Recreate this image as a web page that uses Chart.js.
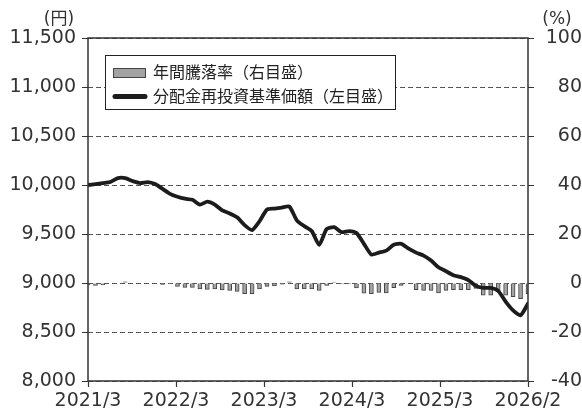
<!DOCTYPE html>
<html>
<head>
<meta charset="utf-8">
<script src="https://cdn.jsdelivr.net/npm/chart.js@4"></script>
<style>
  html, body { margin:0; padding:0; background:#fff; }
  #graphCanvas { display:block; }
</style>
</head>
<body>
<canvas id="graphCanvas" width="582" height="413"></canvas>
<script>
// months 2021/3 .. 2026/2
var months = [];
for (var yy = 2021, mm = 3; months.length < 60; mm++) {
  if (mm > 12) { mm = 1; yy++; }
  months.push(yy + '/' + mm);
}

var xTickLabels = ['2021/3', '2022/3', '2023/3', '2024/3', '2025/3', '2026/2'];

// 分配金再投資基準価額 (円, left axis)
var navValues = [
  10000, 10010, 10020, 10030, 10070, 10070, 10040, 10020, 10030, 10010,
  9960, 9910, 9880, 9860, 9850, 9800, 9830, 9800, 9740, 9710,
  9670, 9590, 9540, 9630, 9750, 9760, 9770, 9780, 9640, 9580,
  9530, 9390, 9550, 9570, 9520, 9530, 9510, 9400, 9290, 9310,
  9330, 9390, 9400, 9350, 9310, 9280, 9230, 9160, 9120, 9080,
  9060, 9030, 8970, 8950, 8950, 8920, 8810, 8720, 8670, 8790
];

// 年間騰落率 (%, right axis)
var annualReturn = [
  -0.8, -1.0, -0.8, 0, 0, 0.5, 0, 0, 0, 0,
  -0.6, -0.1, -1.4, -1.8, -1.8, -2.4, -2.6, -2.4, -2.8, -3.0,
  -3.4, -4.4, -4.4, -2.4, -1.4, -1.2, -0.5, 0.5, -2.4, -2.4,
  -2.4, -3.0, -1.0, 0.4, -0.4, -0.4, -2.0, -4.2, -4.4, -3.8,
  -4.0, -1.9, -1.0, 0, -2.7, -3.0, -3.0, -4.0, -3.0, -2.7,
  -2.7, -2.7, -2.2, -5.0, -5.0, -3.6, -5.0, -5.6, -6.4, -4.4
];

var seriesNames = ['年間騰落率（右目盛）', '分配金再投資基準価額（左目盛）'];
var unitLeft = '(円)';
var unitRight = '(%)';

var tickFont = { family: '"DejaVu Sans", "Noto Sans CJK JP", sans-serif', size: 19 };

function toPoints(arr) {
  var pts = [];
  for (var ii = 0; ii < arr.length; ii++) pts.push({ x: ii, y: arr[ii] });
  return pts;
}

var framePlugin = {
  id: 'frame',
  afterDraw: function(chart) {
    var a = chart.chartArea, ctx = chart.ctx;
    ctx.save();
    ctx.strokeStyle = '#333';
    ctx.lineWidth = 1.5;
    ctx.strokeRect(a.left, a.top, a.right - a.left, a.bottom - a.top);

    // legend box
    var bx = 105, by = 55, bw = 290, bh = 54;
    ctx.fillStyle = '#fff';
    ctx.fillRect(bx, by, bw, bh);
    ctx.lineWidth = 1;
    ctx.strokeStyle = '#222';
    ctx.strokeRect(bx + 0.5, by + 0.5, bw, bh);
    var ds = chart.data.datasets;
    ctx.font = '16px "Noto Sans CJK JP", sans-serif';
    ctx.textBaseline = 'middle';
    ctx.textAlign = 'left';
    // bar item
    ctx.fillStyle = ds[0].backgroundColor;
    ctx.fillRect(113, 68, 32, 9);
    ctx.strokeStyle = ds[0].borderColor;
    ctx.strokeRect(113.5, 68.5, 32, 9);
    ctx.fillStyle = '#222';
    ctx.fillText(ds[0].label, 153, 72);
    // line item
    ctx.strokeStyle = ds[1].borderColor;
    ctx.lineWidth = 5;
    ctx.lineCap = 'round';
    ctx.beginPath();
    ctx.moveTo(115, 96.5);
    ctx.lineTo(145, 96.5);
    ctx.stroke();
    ctx.fillText(ds[1].label, 153, 96);

    // units
    ctx.font = '17px "DejaVu Sans", "Noto Sans CJK JP", sans-serif';
    ctx.textAlign = 'center';
    ctx.fillStyle = '#333';
    ctx.fillText(unitLeft, 59, 20);
    ctx.fillText(unitRight, 557, 20);
    ctx.restore();
  }
};

var graphTarget = document.getElementById('graphCanvas');
var comboChart = new Chart(graphTarget, {
  data: {
    datasets: [
      {
        type: 'bar',
        label: seriesNames[0],
        data: toPoints(annualReturn),
        yAxisID: 'y1',
        backgroundColor: '#a3a3a3',
        borderColor: '#444444',
        borderWidth: 1,
        barThickness: 4,
        order: 2
      },
      {
        type: 'line',
        label: seriesNames[1],
        data: toPoints(navValues),
        yAxisID: 'y',
        borderColor: '#1c1c1c',
        borderWidth: 3.8,
        pointRadius: 0,
        tension: 0.2,
        borderCapStyle: 'round',
        borderJoinStyle: 'round',
        order: 1
      }
    ]
  },
  options: {
    responsive: false,
    animation: false,
    layout: { padding: { top: 38, left: 0, right: 0, bottom: 0 } },
    plugins: { legend: { display: false }, tooltip: { enabled: false } },
    scales: {
      x: {
        type: 'linear',
        offset: false,
        min: 0,
        max: months.length - 1,
        afterBuildTicks: function(scale) {
          scale.ticks = xTickLabels.map(function(l, k) {
            return { value: k * (months.length - 1) / (xTickLabels.length - 1) };
          });
        },
        afterFit: function(scale) { scale.height = 32; },
        ticks: {
          autoSkip: false,
          maxRotation: 0,
          padding: 3,
          color: '#333',
          font: tickFont,
          callback: function(v, idx) { return xTickLabels[idx]; }
        },
        grid: { offset: false, drawOnChartArea: false, tickLength: 6, tickColor: '#333', tickWidth: 1.2 },
        border: { display: false }
      },
      y: {
        position: 'left',
        min: 8000,
        max: 11500,
        afterBuildTicks: function(scale) {
          var t = [];
          for (var v = 8000; v <= 11500; v += 500) t.push({ value: v });
          scale.ticks = t;
        },
        afterFit: function(scale) { scale.width = 88; },
        ticks: {
          padding: 6,
          color: '#333',
          font: tickFont,
          callback: function(v) { return v.toLocaleString('en-US'); }
        },
        grid: { color: '#555', lineWidth: 1, tickLength: 6, tickColor: '#333' },
        border: { display: false, dash: [5, 3] }
      },
      y1: {
        position: 'right',
        min: -40,
        max: 100,
        afterBuildTicks: function(scale) {
          var t = [];
          for (var v = -40; v <= 100; v += 20) t.push({ value: v });
          scale.ticks = t;
        },
        afterFit: function(scale) { scale.width = 54; },
        ticks: {
          padding: 8,
          crossAlign: 'far',
          color: '#333',
          font: tickFont
        },
        grid: { drawOnChartArea: false, tickLength: 6, tickColor: '#333' },
        border: { display: false }
      }
    }
  },
  plugins: [framePlugin]
});
</script>
</body>
</html>
